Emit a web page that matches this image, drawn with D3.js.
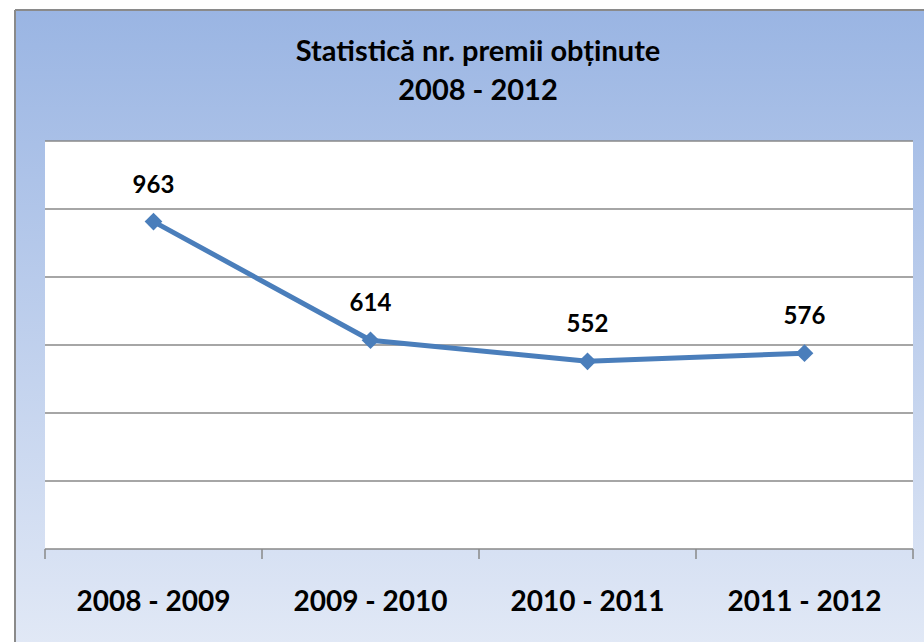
<!DOCTYPE html>
<html><head><meta charset="utf-8">
<script src="https://cdn.jsdelivr.net/npm/d3@7"></script>
<style>html,body{margin:0;padding:0;background:#fff;}svg{display:block;}</style>
</head><body>
<script>
const categories = ["2008 - 2009", "2009 - 2010", "2010 - 2011", "2011 - 2012"];
const values = [963, 614, 552, 576];
const yTicks = [0, 200, 400, 600, 800, 1000, 1200];
const titleLines = ["Statistică nr. premii obținute", "2008 - 2012"];

(function(){
const W = 924, H = 642;
const svg = d3.select("body").append("svg").attr("width", W).attr("height", H);
const defs = svg.append("defs");
const g = defs.append("linearGradient").attr("id","bg").attr("x1",0).attr("y1",0).attr("x2",0).attr("y2",1);
g.append("stop").attr("offset","0%").attr("stop-color","#9ab5e3");
g.append("stop").attr("offset","100%").attr("stop-color","#e2e9f6");

svg.append("rect").attr("x",15).attr("y",10).attr("width",W).attr("height",H).attr("fill","url(#bg)");
svg.append("line").attr("x1",15).attr("x2",W).attr("y1",10).attr("y2",10).attr("stroke","#8a8a8a").attr("stroke-width",2);
svg.append("line").attr("x1",15).attr("x2",15).attr("y1",10).attr("y2",H).attr("stroke","#8a8a8a").attr("stroke-width",2);

const pLeft = 45, pRight = 913, pTop = 141, pBottom = 549;
svg.append("rect").attr("x",pLeft).attr("y",pTop).attr("width",pRight-pLeft).attr("height",pBottom-pTop).attr("fill","#fff");

const x = d3.scaleBand().domain(categories).range([pLeft, pRight]).padding(0);
const y = d3.scaleLinear().domain([0, 1200]).range([pBottom, pTop]);

svg.append("g").selectAll("line").data(yTicks.slice(1)).join("line")
  .attr("x1",pLeft).attr("x2",pRight).attr("y1",d=>y(d)).attr("y2",d=>y(d))
  .attr("stroke","#888").attr("stroke-width",1.5);

const font = "Lato, 'Open Sans', sans-serif";
const xAxis = svg.append("g").attr("transform",`translate(0,${pBottom})`);
xAxis.append("line").attr("x1",pLeft).attr("x2",pRight).attr("stroke","#888").attr("stroke-width",1.5);
const edges = categories.map(c=>x(c)).concat([x(categories[categories.length-1])+x.bandwidth()]);
xAxis.selectAll("line.tick").data(edges).join("line").attr("class","tick")
  .attr("x1",d=>d).attr("x2",d=>d).attr("y1",0).attr("y2",10).attr("stroke","#888").attr("stroke-width",1.5);
xAxis.selectAll("text").data(categories).join("text")
  .attr("x",d=>x(d)+x.bandwidth()/2).attr("y",62).attr("text-anchor","middle")
  .attr("font-family",font).attr("font-weight","bold").attr("font-size",28).attr("fill","#000")
  .text(d=>d);

svg.append("g").selectAll("text").data(titleLines).join("text")
  .attr("x",478).attr("y",(d,i)=>61+i*39).attr("text-anchor","middle")
  .attr("font-family",font).attr("font-weight","bold").attr("font-size",29).attr("fill","#000")
  .text(d=>d);

const pts = categories.map((c,i)=>[x(c)+x.bandwidth()/2, y(values[i])]);
svg.append("path").attr("d", d3.line()(pts)).attr("fill","none").attr("stroke","#4a7ebb").attr("stroke-width",5).attr("stroke-linejoin","round");
svg.append("g").selectAll("path").data(pts).join("path")
  .attr("d", d3.symbol().type(d3.symbolDiamond2).size(200)())
  .attr("transform",d=>`translate(${d[0]},${d[1]})`)
  .attr("fill","#4a7ebb");

svg.append("g").selectAll("text").data(values).join("text")
  .attr("x",(d,i)=>pts[i][0]).attr("y",(d,i)=>pts[i][1]-29).attr("text-anchor","middle")
  .attr("font-family",font).attr("font-weight","bold").attr("font-size",24).attr("fill","#000")
  .text(d=>d);
})();
</script>
</body></html>
